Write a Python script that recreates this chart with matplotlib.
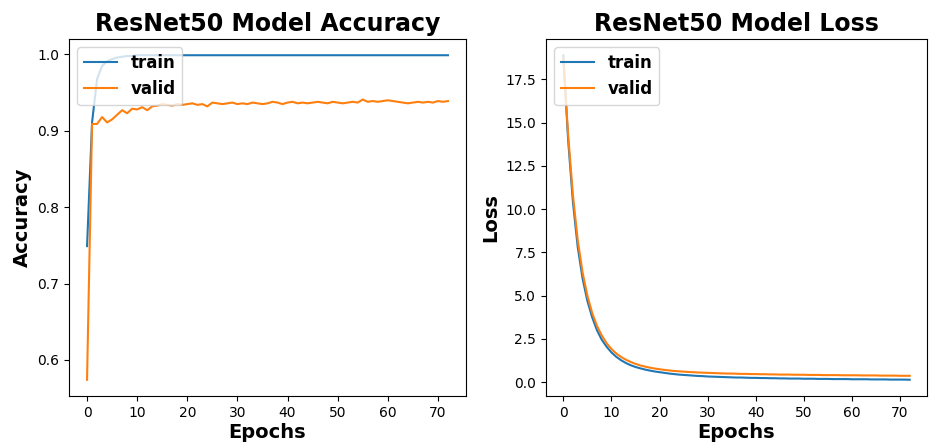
import matplotlib
matplotlib.use("Agg")
import matplotlib.pyplot as plt

# Data (epochs 0..72)
epochs = list(range(73))

train_acc = [0.749, 0.911, 0.968, 0.985, 0.991, 0.994, 0.996, 0.997, 0.998, 0.998,
             0.999, 0.999, 0.999, 0.999, 0.999, 0.999, 0.999, 0.999, 0.999, 0.999,
             0.999, 0.999, 0.999, 0.999, 0.999, 0.999, 0.999, 0.999, 0.999, 0.999,
             0.999, 0.999, 0.999, 0.999, 0.999, 0.999, 0.999, 0.999, 0.999, 0.999,
             0.999, 0.999, 0.999, 0.999, 0.999, 0.999, 0.999, 0.999, 0.999, 0.999,
             0.999, 0.999, 0.999, 0.999, 0.999, 0.999, 0.999, 0.999, 0.999, 0.999,
             0.999, 0.999, 0.999, 0.999, 0.999, 0.999, 0.999, 0.999, 0.999, 0.999,
             0.999, 0.999, 0.999]

valid_acc = [0.574, 0.909, 0.909, 0.918, 0.911, 0.915, 0.921, 0.927, 0.923, 0.929,
             0.928, 0.931, 0.927, 0.932, 0.933, 0.935, 0.934, 0.933, 0.935, 0.934,
             0.935, 0.936, 0.934, 0.935, 0.932, 0.937, 0.936, 0.935, 0.936, 0.937,
             0.935, 0.936, 0.935, 0.937, 0.936, 0.935, 0.936, 0.938, 0.937, 0.935,
             0.937, 0.938, 0.936, 0.937, 0.936, 0.937, 0.938, 0.937, 0.936, 0.938,
             0.937, 0.936, 0.937, 0.938, 0.937, 0.941, 0.938, 0.939, 0.938, 0.939,
             0.940, 0.939, 0.938, 0.937, 0.936, 0.937, 0.938, 0.937, 0.938, 0.937,
             0.939, 0.938, 0.939]

train_loss = [18.9, 14.0, 10.4, 7.8, 6.0, 4.7, 3.75, 3.0, 2.45, 2.05,
              1.72, 1.47, 1.27, 1.11, 0.98, 0.88, 0.8, 0.73, 0.67, 0.62,
              0.58, 0.54, 0.5, 0.47, 0.44, 0.42, 0.4, 0.38, 0.36, 0.35,
              0.33, 0.32, 0.31, 0.3, 0.29, 0.28, 0.27, 0.27, 0.26, 0.25,
              0.25, 0.24, 0.24, 0.23, 0.23, 0.22, 0.22, 0.21, 0.21, 0.21,
              0.2, 0.2, 0.2, 0.19, 0.19, 0.19, 0.18, 0.18, 0.18, 0.18,
              0.17, 0.17, 0.17, 0.17, 0.16, 0.16, 0.16, 0.16, 0.15, 0.15,
              0.15, 0.15, 0.14]

valid_loss = [18.7, 14.3, 10.8, 8.2, 6.35, 5.0, 4.0, 3.25, 2.7, 2.25,
              1.92, 1.66, 1.46, 1.3, 1.17, 1.06, 0.97, 0.9, 0.84, 0.79,
              0.75, 0.71, 0.68, 0.65, 0.63, 0.61, 0.59, 0.58, 0.56, 0.55,
              0.54, 0.53, 0.52, 0.51, 0.5, 0.5, 0.49, 0.48, 0.48, 0.47,
              0.47, 0.46, 0.46, 0.45, 0.45, 0.44, 0.44, 0.44, 0.43, 0.43,
              0.43, 0.42, 0.42, 0.42, 0.41, 0.41, 0.41, 0.41, 0.4, 0.4,
              0.4, 0.4, 0.39, 0.39, 0.39, 0.39, 0.38, 0.38, 0.38, 0.38,
              0.37, 0.37, 0.37]

fig = plt.figure(figsize=(9.33, 4.43), dpi=100)
ax1 = fig.add_axes([69 / 933, 1 - 396 / 443, (466 - 69) / 933, (396 - 39) / 443])
ax2 = fig.add_axes([546 / 933, 1 - 396 / 443, (927 - 546) / 933, (396 - 39) / 443])

bold = {"fontweight": "bold"}

# Accuracy
ax1.plot(epochs, train_acc, label="train")
ax1.plot(epochs, valid_acc, label="valid")
ax1.set_title("ResNet50 Model Accuracy", fontsize=17, **bold)
ax1.set_xlabel("Epochs", fontsize=14, labelpad=2, **bold)
ax1.set_ylabel("Accuracy", fontsize=14, **bold)
ax1.legend(loc="upper left", prop={"weight": "bold", "size": 12})

# Loss
ax2.plot(epochs, train_loss, label="train")
ax2.plot(epochs, valid_loss, label="valid")
ax2.set_title("ResNet50 Model Loss", fontsize=17, **bold)
ax2.set_xlabel("Epochs", fontsize=14, labelpad=2, **bold)
ax2.set_ylabel("Loss", fontsize=14, **bold)
ax2.legend(loc="upper left", prop={"weight": "bold", "size": 12})

fig.savefig("out.png", dpi=100)
